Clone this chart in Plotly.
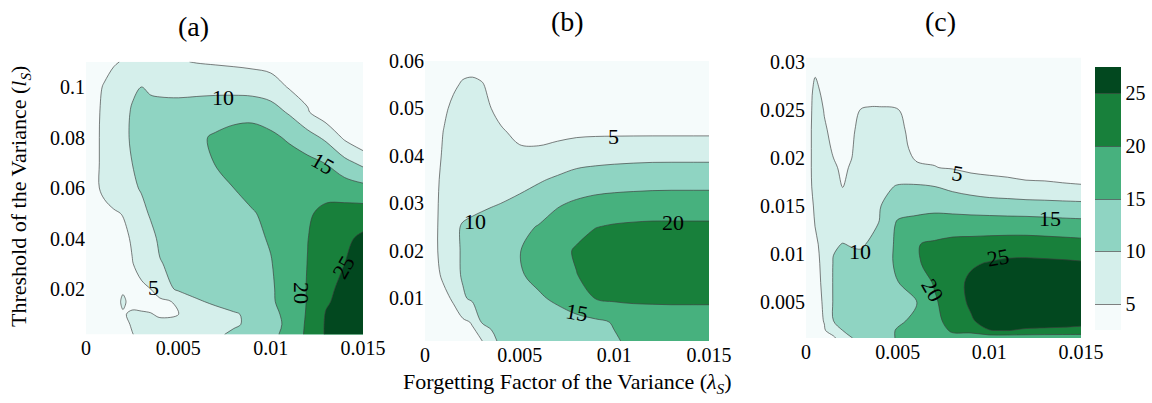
import plotly.graph_objects as go

# ---------------- data ----------------
LEVELS = [5, 10, 15, 20, 25]
BAND_COLORS = ["#f5fbfb", "#d5efeb", "#8fd4c2", "#47b17e", "#18803b", "#02481f"]

X_GRID = [0, 0.0005, 0.001, 0.0015, 0.002, 0.0025, 0.003, 0.0035, 0.004, 0.005,
          0.006, 0.007, 0.008, 0.009, 0.01, 0.011, 0.012, 0.013, 0.014, 0.015]

# (a) threshold grid and values (rows follow Y_A)
Y_A = [0.002, 0.006, 0.01, 0.015, 0.02, 0.03, 0.04, 0.05, 0.06, 0.07, 0.08, 0.09, 0.1, 0.11]
Z_A = [
    [1.5, 1.8, 2.0, 2.5, 3.3, 4.8, 6.5, 7.0, 7.2, 7.5, 8.0, 9.3, 10.7, 12.0, 13.8, 16.5, 21.0, 25.5, 27.0, 27.5],
    [1.5, 1.8, 2.0, 2.5, 3.5, 5.5, 6.0, 6.2, 6.0, 5.8, 7.0, 8.3, 9.5, 10.8, 13.0, 16.3, 20.8, 25.5, 27.0, 27.5],
    [1.5, 1.8, 2.2, 3.0, 4.7, 5.5, 5.5, 5.2, 4.5, 4.9, 7.0, 8.5, 9.5, 11.0, 13.5, 16.5, 20.5, 25.3, 27.0, 27.5],
    [1.5, 1.8, 2.0, 3.5, 5.5, 4.0, 3.5, 3.5, 4.0, 5.6, 9.5, 10.7, 12.0, 13.0, 14.5, 16.5, 20.3, 24.5, 26.5, 27.5],
    [1.5, 1.8, 2.0, 2.3, 4.6, 3.5, 4.2, 5.0, 7.5, 10.8, 11.5, 12.0, 12.6, 13.3, 14.5, 16.8, 20.3, 24.3, 25.8, 27.0],
    [1.5, 2.0, 2.3, 2.7, 3.5, 4.8, 6.5, 8.0, 9.8, 11.0, 11.8, 12.3, 13.0, 13.6, 14.8, 17.0, 20.1, 23.0, 25.0, 27.0],
    [1.5, 2.0, 2.5, 3.0, 3.8, 5.5, 7.5, 9.0, 10.6, 11.5, 12.2, 12.8, 13.5, 14.2, 15.3, 17.5, 19.9, 22.5, 24.0, 26.0],
    [2.0, 3.0, 3.8, 4.5, 5.2, 7.0, 9.0, 10.4, 11.0, 12.0, 13.0, 13.5, 14.2, 14.7, 16.0, 18.0, 19.5, 21.0, 21.8, 22.2],
    [2.0, 4.2, 6.0, 7.5, 8.5, 9.4, 10.3, 11.0, 11.5, 12.3, 13.0, 14.0, 15.0, 16.3, 17.3, 18.0, 18.5, 18.5, 17.5, 16.5],
    [2.0, 4.2, 6.0, 7.5, 8.8, 10.0, 11.0, 11.5, 12.0, 13.0, 14.0, 15.1, 16.5, 17.5, 18.0, 17.5, 16.3, 14.8, 11.5, 8.7],
    [2.0, 4.2, 6.0, 7.5, 9.0, 10.5, 11.5, 12.0, 12.5, 13.5, 14.3, 15.5, 16.5, 17.0, 16.2, 14.2, 12.0, 9.0, 4.2, 1.0],
    [2.0, 4.0, 6.0, 7.5, 9.0, 10.3, 11.0, 11.5, 12.0, 12.0, 12.5, 13.0, 13.5, 13.5, 12.0, 9.5, 5.4, 2.0, 1.5, 1.5],
    [2.0, 3.5, 5.5, 7.0, 8.5, 9.5, 10.0, 9.3, 8.7, 8.5, 8.5, 8.5, 8.3, 8.0, 7.5, 4.6, 3.5, 1.5, 1.5, 1.5],
    [2.0, 2.5, 3.0, 4.5, 5.3, 5.5, 5.5, 5.5, 5.5, 5.3, 4.8, 4.5, 4.2, 3.8, 3.0, 2.5, 2.0, 1.5, 1.5, 1.5],
]

# (b)
Y_B = [0.001, 0.005, 0.01, 0.015, 0.02, 0.025, 0.03, 0.035, 0.04, 0.045, 0.05, 0.055, 0.06]
Z_B = [
    [1.0, 1.5, 2.0, 2.5, 3.0, 3.8, 4.8, 8.5, 11.0, 11.5, 12.0, 12.5, 13.0, 13.8, 14.6, 15.8, 16.3, 16.5, 16.5, 16.5],
    [1.0, 1.8, 2.5, 3.3, 4.2, 5.3, 10.3, 11.0, 11.5, 12.0, 12.5, 13.0, 13.5, 14.2, 15.3, 16.5, 17.0, 17.3, 17.3, 17.3],
    [1.2, 2.5, 4.0, 5.5, 9.4, 10.8, 11.5, 12.0, 12.5, 13.5, 14.4, 15.8, 18.0, 20.1, 20.8, 21.0, 21.0, 21.0, 21.0, 21.0],
    [1.5, 3.8, 5.8, 8.5, 10.5, 11.2, 12.0, 12.7, 13.3, 14.6, 16.2, 18.0, 19.9, 21.5, 22.5, 23.0, 23.3, 23.5, 23.5, 23.5],
    [1.5, 4.2, 6.5, 8.8, 10.5, 11.2, 12.0, 12.8, 13.5, 14.9, 16.5, 18.5, 20.5, 22.0, 23.0, 23.5, 23.8, 24.0, 24.0, 24.0],
    [1.5, 4.2, 6.5, 8.8, 10.5, 11.0, 11.5, 12.0, 12.5, 13.8, 15.3, 17.0, 18.5, 19.9, 20.5, 20.8, 21.0, 21.0, 21.0, 21.0],
    [1.5, 4.2, 6.2, 7.5, 8.2, 8.8, 9.2, 9.6, 10.0, 10.8, 12.5, 14.5, 15.6, 16.4, 16.8, 17.0, 17.1, 17.1, 17.1, 17.1],
    [1.5, 4.0, 6.0, 7.0, 7.5, 7.8, 8.0, 8.2, 8.3, 8.8, 9.5, 10.7, 12.0, 12.5, 12.8, 13.0, 13.2, 13.3, 13.3, 13.3],
    [1.5, 3.5, 5.6, 7.0, 7.5, 7.6, 7.5, 7.3, 6.9, 5.9, 5.9, 6.8, 7.7, 8.2, 8.5, 8.7, 8.8, 8.8, 8.8, 8.8],
    [1.5, 3.0, 5.2, 7.0, 8.0, 8.2, 7.8, 6.8, 5.5, 4.0, 3.8, 3.9, 4.2, 4.3, 4.3, 4.3, 4.3, 4.3, 4.3, 4.3],
    [1.5, 2.5, 4.2, 6.0, 7.0, 7.2, 6.5, 5.0, 3.8, 3.0, 2.8, 2.7, 2.5, 2.5, 2.5, 2.5, 2.5, 2.5, 2.5, 2.5],
    [1.5, 2.0, 3.0, 4.3, 5.5, 5.8, 5.3, 4.0, 3.0, 2.5, 2.2, 2.0, 2.0, 2.0, 2.0, 2.0, 2.0, 2.0, 2.0, 2.0],
    [1.0, 1.5, 2.0, 2.5, 3.2, 3.3, 3.0, 2.5, 2.0, 1.8, 1.6, 1.5, 1.5, 1.5, 1.5, 1.5, 1.5, 1.5, 1.5, 1.5],
]

# (c)
Y_C = [0.0012, 0.002, 0.003, 0.005, 0.007, 0.009, 0.011, 0.013, 0.015, 0.017,
       0.019, 0.021, 0.023, 0.025, 0.027, 0.029, 0.0305]
Z_C = [
    [2.0, 3.0, 4.2, 4.0, 8.0, 9.9, 11.0, 12.0, 13.3, 15.3, 17.0, 17.8, 18.8, 17.0, 16.5, 16.5, 16.5, 16.5, 16.5, 16.5],
    [2.2, 3.1, 4.6, 7.5, 10.0, 11.0, 11.8, 12.6, 13.8, 15.2, 16.5, 18.3, 20.5, 21.5, 24.9, 25.1, 24.5, 24.2, 24.0, 23.8],
    [2.5, 3.3, 5.2, 10.0, 10.5, 11.5, 12.0, 12.8, 13.8, 14.6, 15.5, 18.5, 22.0, 24.6, 26.5, 26.8, 27.0, 27.2, 27.0, 26.5],
    [2.5, 3.6, 5.5, 10.4, 10.8, 11.8, 12.0, 12.7, 13.6, 14.0, 14.8, 19.2, 23.3, 25.6, 27.2, 27.5, 27.7, 27.7, 27.5, 27.2],
    [2.5, 3.8, 5.8, 10.4, 10.8, 11.5, 11.5, 12.0, 13.0, 14.9, 16.5, 20.5, 23.5, 25.8, 26.8, 27.3, 27.5, 27.5, 27.3, 27.0],
    [2.5, 4.0, 6.0, 10.3, 10.6, 11.0, 10.6, 11.0, 12.0, 16.0, 19.6, 21.0, 23.0, 24.5, 25.3, 26.0, 26.2, 26.0, 25.8, 25.5],
    [2.5, 4.4, 6.2, 9.6, 10.1, 9.8, 9.8, 10.2, 11.0, 16.2, 19.8, 20.6, 21.5, 21.7, 22.0, 22.2, 22.2, 22.0, 21.8, 21.5],
    [2.5, 5.1, 6.4, 8.5, 8.3, 8.6, 9.2, 9.6, 10.1, 15.8, 16.5, 17.5, 17.5, 17.5, 17.5, 17.5, 17.5, 17.3, 17.0, 16.8],
    [2.5, 5.6, 6.5, 7.5, 6.5, 7.5, 8.7, 9.1, 9.7, 13.0, 13.5, 13.5, 13.2, 12.8, 12.5, 12.2, 12.0, 11.8, 11.6, 11.4],
    [3.0, 6.2, 6.5, 6.5, 4.95, 6.5, 8.2, 8.6, 9.3, 10.2, 10.6, 10.1, 8.9, 7.8, 6.8, 6.5, 5.9, 5.8, 5.5, 5.3],
    [2.8, 6.6, 6.3, 5.4, 4.5, 5.3, 7.6, 8.0, 8.7, 8.3, 5.6, 5.1, 4.7, 3.9, 3.8, 3.5, 3.3, 3.2, 3.1, 3.0],
    [2.5, 6.8, 6.0, 4.6, 4.2, 4.7, 7.0, 7.5, 8.0, 6.8, 3.8, 4.2, 3.9, 3.6, 3.3, 3.1, 2.9, 2.8, 2.7, 2.6],
    [2.5, 6.8, 5.3, 4.3, 4.0, 4.3, 6.3, 6.8, 7.0, 5.8, 3.8, 3.7, 3.4, 3.1, 2.9, 2.7, 2.5, 2.4, 2.3, 2.3],
    [2.5, 6.5, 4.85, 4.0, 3.8, 4.2, 5.1, 5.2, 5.2, 5.1, 3.8, 3.2, 2.9, 2.7, 2.5, 2.3, 2.2, 2.2, 2.1, 2.1],
    [2.5, 6.0, 4.0, 3.5, 3.2, 3.5, 4.0, 4.1, 4.1, 3.9, 3.0, 2.6, 2.4, 2.3, 2.1, 2.0, 2.0, 2.0, 2.0, 2.0],
    [2.0, 4.6, 3.2, 3.0, 2.6, 2.7, 3.0, 3.2, 3.2, 3.0, 2.5, 2.2, 2.1, 2.0, 1.9, 1.9, 1.9, 1.9, 1.9, 1.9],
    [2.0, 3.5, 2.8, 2.5, 2.2, 2.2, 2.5, 2.6, 2.6, 2.5, 2.2, 2.0, 2.0, 1.8, 1.8, 1.8, 1.8, 1.8, 1.8, 1.8],
]

X_TICKS = [0, 0.005, 0.01, 0.015]
X_TICKTEXT = ["0", "0.005", "0.01", "0.015"]
Y_TICKS_A = [0.02, 0.04, 0.06, 0.08, 0.1]
Y_TICKTEXT_A = ["0.02", "0.04", "0.06", "0.08", "0.1"]
Y_TICKS_B = [0.01, 0.02, 0.03, 0.04, 0.05, 0.06]
Y_TICKTEXT_B = ["0.01", "0.02", "0.03", "0.04", "0.05", "0.06"]
Y_TICKS_C = [0.005, 0.01, 0.015, 0.02, 0.025, 0.03]
Y_TICKTEXT_C = ["0.005", "0.01", "0.015", "0.02", "0.025", "0.03"]

# contour label placement: (level, x, y, rotation)
LABELS_A = [(5, 0.00363, 0.0204, 0), (10, 0.00742, 0.096, 0), (15, 0.01283, 0.0699, 30),
            (20, 0.0117, 0.0184, 90), (25, 0.01392, 0.0287, -60)]
LABELS_B = [(5, 0.00993, 0.044, 0), (10, 0.00264, 0.0261, 0), (15, 0.00803, 0.00712, 10),
            (20, 0.0131, 0.0259, 0)]
LABELS_C = [(5, 0.00829, 0.01843, 10), (10, 0.00295, 0.0102, 0), (15, 0.01331, 0.01374, 0),
            (20, 0.00693, 0.00622, 60), (25, 0.01047, 0.00957, -10)]

# ---------------- styling ----------------
W, H = 1152, 403
SERIF = "Liberation Serif, Times New Roman, serif"
TICK_SIZE = 20


def stepped_scale(colors):
    # band edges on the colour axis (2.5 .. 27.5 mapped onto 0 .. 1)
    edges = [0, 0.1, 0.3, 0.5, 0.7, 0.9, 1.0]
    scale = []
    for i, c in enumerate(colors):
        scale.append([edges[i], c])
        scale.append([edges[i + 1], c])
    return scale


SCALE = stepped_scale(BAND_COLORS)
step = LEVELS[1] - LEVELS[0]


def contour(x, y, z, xa, ya, showscale):
    return go.Contour(
        x=x, y=y, z=z, xaxis=xa, yaxis=ya,
        autocontour=False,
        contours=dict(start=LEVELS[0], end=LEVELS[-1], size=step, coloring="fill",
                      showlabels=False),
        colorscale=SCALE,
        line=dict(color="rgba(60,60,60,0.65)", width=1, smoothing=1),
        showscale=showscale,
        colorbar=dict(
            thickness=26, thicknessmode="pixels",
            len=263, lenmode="pixels", xpad=0, ypad=0,
            x=1095 / W, xanchor="left", y=1 - 198.5 / H, yanchor="middle",
            outlinewidth=0, tickvals=LEVELS, ticks="",
            tickfont=dict(family=SERIF, size=TICK_SIZE, color="black"),
        ),
        hoverinfo="skip",
    )


fig = go.Figure()
fig.add_trace(contour(X_GRID, Y_A, Z_A, "x", "y", False))
fig.add_trace(contour(X_GRID, Y_B, Z_B, "x2", "y2", False))
fig.add_trace(contour(X_GRID, Y_C, Z_C, "x3", "y3", True))

axis_common = dict(showgrid=False, zeroline=False, showline=False, ticks="",
                   tickfont=dict(family=SERIF, size=TICK_SIZE, color="black"))


def px_dom(a, b):
    return [a / W, b / W]


def py_dom(top, bottom):
    return [1 - bottom / H, 1 - top / H]


fig.update_layout(
    width=W, height=H,
    margin=dict(l=0, r=0, t=0, b=0, autoexpand=False),
    paper_bgcolor="white", plot_bgcolor="white",
    showlegend=False,
    xaxis=dict(domain=px_dom(86, 363), range=[0, 0.015], anchor="y",
               tickvals=X_TICKS, ticktext=X_TICKTEXT, **axis_common),
    yaxis=dict(domain=py_dom(61.75, 334.45), range=[0.002, 0.11], anchor="x",
               tickvals=Y_TICKS_A, ticktext=Y_TICKTEXT_A, **axis_common),
    xaxis2=dict(domain=px_dom(425, 709), range=[0, 0.015], anchor="y2",
                tickvals=X_TICKS, ticktext=X_TICKTEXT, **axis_common),
    yaxis2=dict(domain=py_dom(61.0, 341.05), range=[0.001, 0.06], anchor="x2",
                tickvals=Y_TICKS_B, ticktext=Y_TICKTEXT_B, **axis_common),
    xaxis3=dict(domain=px_dom(806, 1081), range=[0, 0.015], anchor="y3",
                tickvals=X_TICKS, ticktext=X_TICKTEXT, **axis_common),
    yaxis3=dict(domain=py_dom(57.5, 338.1), range=[0.0012, 0.0305], anchor="x3",
                tickvals=Y_TICKS_C, ticktext=Y_TICKTEXT_C, **axis_common),
)

annotations = []
for labels, xr, yr in ((LABELS_A, "x", "y"), (LABELS_B, "x2", "y2"), (LABELS_C, "x3", "y3")):
    for level, lx, ly, rot in labels:
        annotations.append(dict(
            text=str(level), x=lx, y=ly, xref=xr, yref=yr, showarrow=False,
            xanchor="center", yanchor="middle",
            textangle=rot, font=dict(family=SERIF, size=22, color="black"),
        ))

for txt, cx, cy in (("(a)", 193, 27), ("(b)", 567, 22), ("(c)", 940, 22)):
    annotations.append(dict(text=txt, x=cx / W, y=1 - cy / H, xref="paper", yref="paper",
                            xanchor="center", yanchor="middle", showarrow=False,
                            font=dict(family=SERIF, size=28, color="black")))

annotations.append(dict(
    text="Threshold of the Variance (<i>l<sub>S</sub></i>)",
    x=20 / W, y=1 - 197 / H, xref="paper", yref="paper", showarrow=False, textangle=-90,
    xanchor="center", yanchor="middle",
    font=dict(family=SERIF, size=22, color="black")))
annotations.append(dict(
    text="Forgetting Factor of the Variance (<i>λ<sub>S</sub></i>)",
    x=567 / W, y=1 - 383 / H, xref="paper", yref="paper", showarrow=False,
    xanchor="center", yanchor="middle",
    font=dict(family=SERIF, size=22, color="black")))

fig.update_layout(annotations=annotations)

fig.write_html("out.html")
